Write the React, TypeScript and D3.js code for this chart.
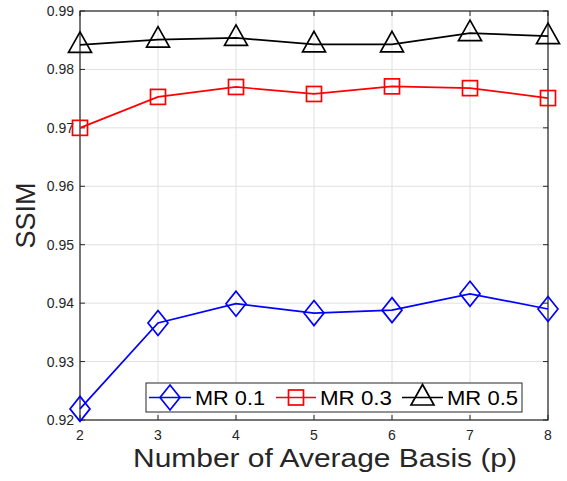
import React from 'react';
import * as d3 from 'd3';

const pValues = [2, 3, 4, 5, 6, 7, 8];
const mr01 = [0.9219, 0.9366, 0.9399, 0.9383, 0.9388, 0.9416, 0.939];
const mr03 = [0.97, 0.9753, 0.977, 0.9758, 0.9771, 0.9768, 0.9751];
const mr05 = [0.9842, 0.9851, 0.9854, 0.9843, 0.9843, 0.9862, 0.9857];
const yTicks = [0.92, 0.93, 0.94, 0.95, 0.96, 0.97, 0.98, 0.99];
const seriesNames = ['MR 0.1', 'MR 0.3', 'MR 0.5'];

const W = 567;
const H = 481;
const margin = { top: 11, right: 19, bottom: 61, left: 80 };
const font = 'Liberation Sans, Arial, Helvetica, sans-serif';

function Marker({ shape, x, y, color }: { shape: string; x: number; y: number; color: string }) {
  if (shape === 'diamond') {
    return (
      <path
        d={`M${x},${y - 12.5}L${x + 10},${y}L${x},${y + 12.5}L${x - 10},${y}Z`}
        fill="none" stroke={color} strokeWidth={1.7}
      />
    );
  }
  if (shape === 'square') {
    return <rect x={x - 7.5} y={y - 7.5} width={15} height={15} fill="none" stroke={color} strokeWidth={1.7} />;
  }
  return (
    <path
      d={`M${x},${y - 13}L${x + 11.5},${y + 7.5}L${x - 11.5},${y + 7.5}Z`}
      fill="none" stroke={color} strokeWidth={1.7}
    />
  );
}

export default function App() {
  const iw = W - margin.left - margin.right;
  const ih = H - margin.top - margin.bottom;
  const x = d3.scaleLinear().domain([2, 8]).range([0, iw]);
  const y = d3.scaleLinear().domain([0.92, 0.99]).range([ih, 0]);

  const series = [
    { name: seriesNames[0], values: mr01, color: '#0000ff', shape: 'diamond' },
    { name: seriesNames[1], values: mr03, color: '#ff0000', shape: 'square' },
    { name: seriesNames[2], values: mr05, color: '#000000', shape: 'triangle' },
  ];

  const line = d3.line<number>()
    .x((_, i) => x(pValues[i]))
    .y(d => y(d));

  // legend box in page coordinates
  const lgX = 146;
  const lgY = 383;
  const lgW = 376;
  const lgH = 29;
  const lgItems = [
    { l0: 149, l1: 191, t0: 195, t1: 265 },
    { l0: 276, l1: 316, t0: 320, t1: 392 },
    { l0: 402, l1: 443, t0: 447, t1: 518 },
  ];

  return (
    <svg width={W} height={H} style={{ display: 'block', position: 'absolute', left: 0, top: 0 }}>
      <rect width={W} height={H} fill="#fff" />
      <g transform={`translate(${margin.left},${margin.top})`}>
        {pValues.map(p => (
          <line key={'gx' + p} x1={x(p)} x2={x(p)} y1={0} y2={ih} stroke="#e0e0e0" strokeWidth={1} />
        ))}
        {yTicks.map(t => (
          <line key={'gy' + t} x1={0} x2={iw} y1={y(t)} y2={y(t)} stroke="#e0e0e0" strokeWidth={1} />
        ))}
        {pValues.map(p => (
          <g key={'tx' + p}>
            <line x1={x(p)} x2={x(p)} y1={ih} y2={ih - 5} stroke="#262626" />
            <line x1={x(p)} x2={x(p)} y1={0} y2={5} stroke="#262626" />
            <text x={x(p)} y={ih + 20} textAnchor="middle" fontSize={14} fontFamily={font} fill="#262626">{p}</text>
          </g>
        ))}
        {yTicks.map(t => (
          <g key={'ty' + t}>
            <line x1={0} x2={5} y1={y(t)} y2={y(t)} stroke="#262626" />
            <line x1={iw} x2={iw - 5} y1={y(t)} y2={y(t)} stroke="#262626" />
            <text x={-6} y={y(t) + 5} textAnchor="end" fontSize={14} fontFamily={font} fill="#262626">{t.toFixed(2)}</text>
          </g>
        ))}
        <rect x={0} y={0} width={iw} height={ih} fill="none" stroke="#262626" strokeWidth={1.2} />
        {series.map(s => (
          <g key={s.name}>
            <path d={line(s.values) || ''} fill="none" stroke={s.color} strokeWidth={1.7} />
            {s.values.map((v, i) => (
              <Marker key={i} shape={s.shape} x={x(pValues[i])} y={y(v)} color={s.color} />
            ))}
          </g>
        ))}
      </g>
      <rect x={lgX} y={lgY} width={lgW} height={lgH} fill="#fff" stroke="#262626" strokeWidth={1} />
      {series.map((s, i) => {
        const it = lgItems[i];
        const cy = lgY + lgH / 2;
        return (
          <g key={'lg' + s.name}>
            <line x1={it.l0} x2={it.l1} y1={cy} y2={cy} stroke={s.color} strokeWidth={1.7} />
            <Marker shape={s.shape} x={(it.l0 + it.l1) / 2} y={cy} color={s.color} />
            <text x={it.t0} y={cy + 7.5} fontSize={21} fontFamily={font} fill="#000"
              textLength={it.t1 - it.t0} lengthAdjust="spacingAndGlyphs">{s.name}</text>
          </g>
        );
      })}
      <text x={133} y={467} fontSize={26} fontFamily={font} fill="#262626"
        textLength={384} lengthAdjust="spacingAndGlyphs">
        Number of Average Basis (p)
      </text>
      <text transform={`translate(35,${margin.top + ih / 2}) rotate(-90)`} textAnchor="middle" fontSize={27} fontFamily={font} fill="#262626">
        SSIM
      </text>
    </svg>
  );
}
